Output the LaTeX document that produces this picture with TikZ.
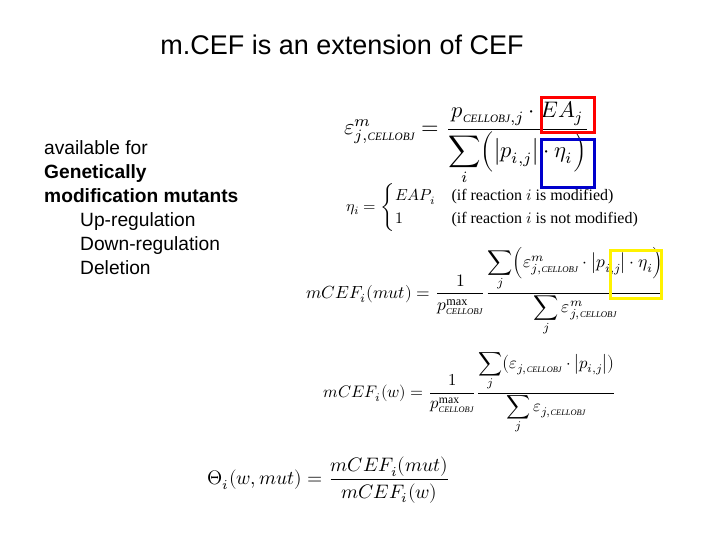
\documentclass[tikz,border=0pt]{standalone}
\usepackage{amsmath}
\usepackage{fontspec}
\setmainfont{Liberation Serif}
\setsansfont{Liberation Sans}
\usepackage{unicode-math}
\setmathfont{Latin Modern Math}
\newcommand{\CO}{\mathit{\scriptscriptstyle CELLOBJ}}
\begin{document}
\begin{tikzpicture}[x=1pt,y=-1pt,
  txt/.style={anchor=west,font=\sffamily\fontsize{19.2}{24}\selectfont,align=left,inner sep=0},
  eq/.style={inner sep=0},
  hl/.style={line width=3pt}]
\useasboundingbox (0,0) rectangle (720,540);
\node[inner sep=0,font=\sffamily\fontsize{27}{32}\selectfont] (title) at (342,45) {m.CEF is an extension of CEF};
\node[txt,anchor=north west] (list) at (44,140) {available for\\\textbf{Genetically}\\\textbf{modification mutants}\\\hspace{36pt}Up-regulation\\\hspace{36pt}Down-regulation\\\hspace{36pt}Deletion};
\node[eq,scale=2.25] (e1) at (467,143) {$\varepsilon^{m}_{j,\CO}=\dfrac{p_{\CO,j}\cdot EA_j}{\displaystyle\sum_i\Bigl(\bigl|p_{i,j}\bigr|\cdot\eta_i\Bigr)}$};
\node[eq,scale=1.6] (e2) at (493,207) {$\eta_i=\begin{cases}EAP_i & \text{(if reaction $i$ is modified)}\\ 1 & \text{(if reaction $i$ is not modified)}\end{cases}$};
\node[eq,scale=1.75] (e3) at (486,292) {$mCEF_i(mut)=\dfrac{1}{p^{\max}_{\CO}}\dfrac{\displaystyle\sum_j\Bigl(\varepsilon^{m}_{j,\CO}\cdot\bigl|p_{i,j}\bigr|\cdot\eta_i\Bigr)}{\displaystyle\sum_j\varepsilon^{m}_{j,\CO}}$};
\node[eq,scale=1.67] (e4) at (470,393) {$mCEF_i(w)=\dfrac{1}{p^{\max}_{\CO}}\dfrac{\displaystyle\sum_j\bigl(\varepsilon_{j,\CO}\cdot\bigl|p_{i,j}\bigr|\bigr)}{\displaystyle\sum_j\varepsilon_{j,\CO}}$};
\node[eq,scale=1.95] (e5) at (329,480) {$\Theta_i(w,mut)=\dfrac{mCEF_i(mut)}{mCEF_i(w)}$};
\draw[hl,red] (541,98) rectangle (594,133);
\draw[hl,blue!80!black] (541,140) rectangle (594,188);
\draw[hl,yellow] (610,250) rectangle (661,298);
\end{tikzpicture}
\end{document}
